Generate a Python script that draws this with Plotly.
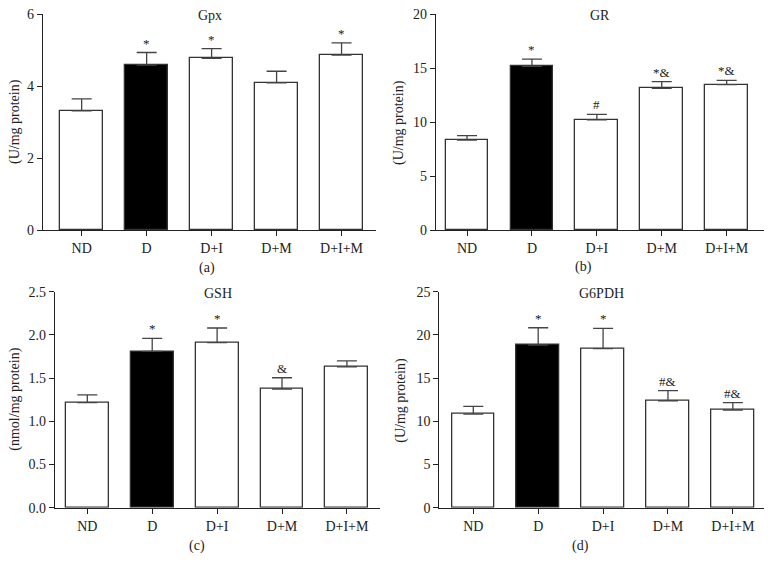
import plotly.graph_objects as go

W, H = 773, 572
OFF = 8  # default page body margin
FW, FH = W - OFF, H - OFF
groups = ["ND", "D", "D+I", "D+M", "D+I+M"]

gpx_mean = [3.31, 4.58, 4.77, 4.09, 4.86]
gpx_err = [0.33, 0.35, 0.27, 0.32, 0.34]
gpx_sig = ["", "*", "*", "", "*"]

gr_mean = [8.33, 15.15, 10.19, 13.12, 13.46]
gr_err = [0.40, 0.68, 0.51, 0.61, 0.40]
gr_sig = ["", "*", "#", "*&", "*&"]

gsh_mean = [1.215, 1.81, 1.91, 1.374, 1.63]
gsh_err = [0.09, 0.15, 0.17, 0.13, 0.07]
gsh_sig = ["", "*", "*", "&", ""]

g6pdh_mean = [10.84, 18.83, 18.40, 12.38, 11.31]
g6pdh_err = [0.89, 2.00, 2.36, 1.16, 0.84]
g6pdh_sig = ["", "*", "*", "#&", "#&"]

bar_colors = ["white", "black", "white", "white", "white"]

FONT = "Liberation Serif, Times New Roman, serif"
TXT = "#222222"


def px(x):
    return (x - OFF) / FW


def py(y):
    return 1 - (y - OFF) / FH


panels = [
    dict(title="Gpx", ytitle="(U/mg protein)", mean=gpx_mean, err=gpx_err, sig=gpx_sig,
         yr=[0, 6], dt=2, fmt="", px=(43, 376), py=(14, 230), xr=[-0.595, 4.53],
         cap="(a)", capxy=(207, 268), ytx=15),
    dict(title="GR", ytitle="(U/mg protein)", mean=gr_mean, err=gr_err, sig=gr_sig,
         yr=[0, 20], dt=5, fmt="", px=(436, 764), py=(14, 230), xr=[-0.478, 4.575],
         cap="(b)", capxy=(583, 267), ytx=399),
    dict(title="GSH", ytitle="(nmol/mg protein)", mean=gsh_mean, err=gsh_err, sig=gsh_sig,
         yr=[0, 2.5], dt=0.5, fmt=".1f", px=(55, 380), py=(291.7, 507.7), xr=[-0.498, 4.51],
         cap="(c)", capxy=(197, 546), ytx=15),
    dict(title="G6PDH", ytitle="(U/mg protein)", mean=g6pdh_mean, err=g6pdh_err, sig=g6pdh_sig,
         yr=[0, 25], dt=5, fmt="", px=(439.3, 764), py=(291.7, 507.7), xr=[-0.524, 4.48],
         cap="(d)", capxy=(580, 546), ytx=401),
]

fig = go.Figure()
annotations = []
for i, p in enumerate(panels):
    n = "" if i == 0 else str(i + 1)
    xa, ya = "x" + n, "y" + n
    fig.add_trace(go.Bar(
        x=list(range(len(groups))), y=p["mean"], width=0.66,
        marker=dict(color=bar_colors, line=dict(color="#333333", width=1.3)),
        error_y=dict(type="data", symmetric=False, array=p["err"],
                     arrayminus=[0] * len(groups), color="#444444", thickness=1.3, width=10),
        xaxis=xa, yaxis=ya, showlegend=False,
    ))
    axis_common = dict(showline=True, linecolor=TXT, linewidth=1.2, ticks="outside",
                       ticklen=5, tickwidth=1.2, tickcolor=TXT, showgrid=False,
                       zeroline=False, automargin=False, ticklabeloverflow="allow",
                       tickfont=dict(family=FONT, size=14, color=TXT))
    fig.layout["xaxis" + n] = dict(domain=[px(p["px"][0]), px(p["px"][1])], range=p["xr"],
                                   tickmode="array", tickvals=list(range(len(groups))),
                                   ticktext=groups, anchor=ya, **axis_common)
    fig.layout["yaxis" + n] = dict(domain=[py(p["py"][1]), py(p["py"][0])], range=p["yr"],
                                   dtick=p["dt"], tick0=0, tickformat=p["fmt"], anchor=xa,
                                   **axis_common)
    annotations.append(dict(text=p["title"], xref=xa + " domain", yref=ya + " domain",
                            x=0.5, y=1.0, xanchor="center", yanchor="middle", yshift=-2,
                            showarrow=False, font=dict(family=FONT, size=14, color=TXT)))
    annotations.append(dict(text=p["ytitle"], xref="paper", yref=ya + " domain",
                            x=px(p["ytx"]), y=0.5, textangle=-90, xanchor="center",
                            yanchor="middle", showarrow=False,
                            font=dict(family=FONT, size=14, color=TXT)))
    annotations.append(dict(text=p["cap"], xref="paper", yref="paper",
                            x=px(p["capxy"][0]), y=py(p["capxy"][1]), xanchor="center",
                            yanchor="middle", showarrow=False,
                            font=dict(family=FONT, size=14, color=TXT)))
    for k, s in enumerate(p["sig"]):
        if s:
            annotations.append(dict(text=s, xref=xa, yref=ya, x=k,
                                    y=p["mean"][k] + p["err"][k], xanchor="center",
                                    yanchor="bottom", yshift=0, showarrow=False,
                                    font=dict(family=FONT, size=13, color=TXT)))

fig.update_layout(width=FW, height=FH, margin=dict(l=0, r=0, t=0, b=0),
                  paper_bgcolor="white", plot_bgcolor="white", annotations=annotations,
                  bargap=0)
fig.write_html("out.html")
